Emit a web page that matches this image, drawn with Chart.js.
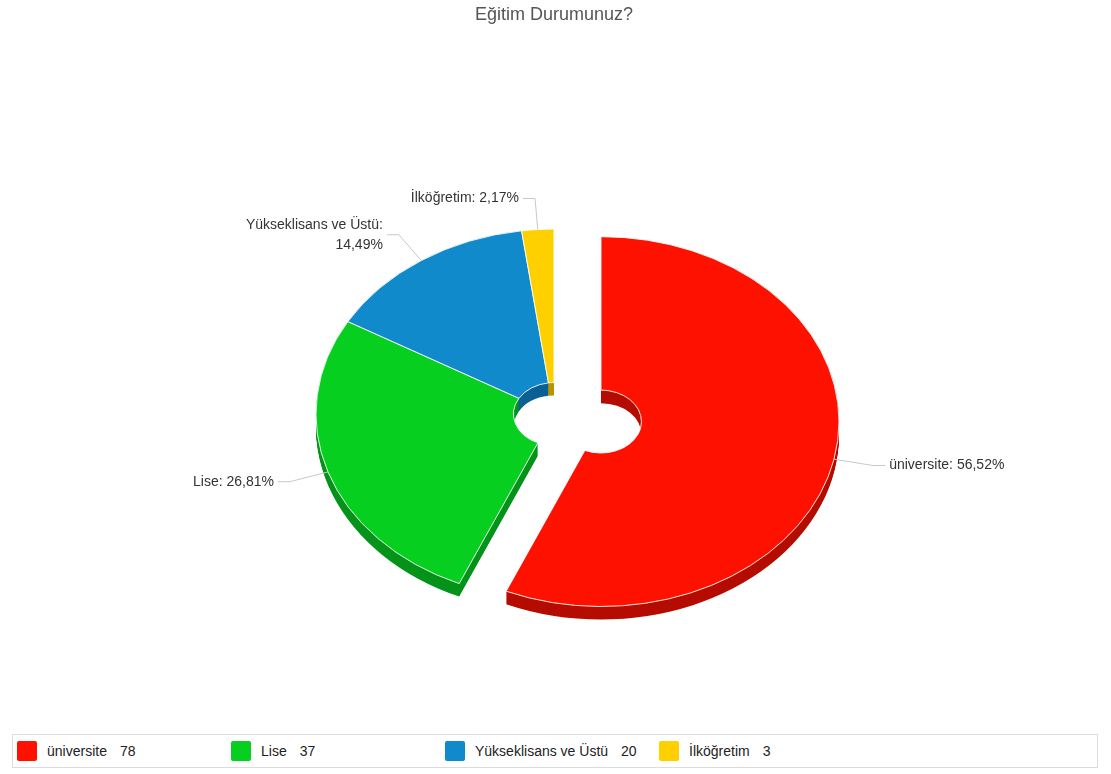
<!DOCTYPE html>
<html>
<head>
<meta charset="utf-8">
<script src="https://cdn.jsdelivr.net/npm/chart.js@4.4.1/dist/chart.umd.min.js"></script>
<style>
  body { margin: 0; background: #fff; font-family: "Liberation Sans", Arial, sans-serif; }
  #wrap { position: relative; width: 1111px; height: 728px; }
  #legend {
    position: absolute; left: 12px; top: 734px; width: 1086px; height: 34px;
    border: 1px solid #dcdcdc; box-sizing: border-box; padding-left: 4px;
    white-space: nowrap; font-size: 14px; color: #222;
  }
  #legend .item { display: inline-block; width: 214px; height: 32px; line-height: 32px; vertical-align: top; }
  #legend .sw { display: inline-block; width: 20px; height: 20px; border-radius: 2px; vertical-align: middle; margin: -3px 10px 0 0; }
  #legend .val { margin-left: 13px; }
</style>
</head>
<body>
<div id="wrap"><canvas id="pie" width="1111" height="728"></canvas></div>
<div id="legend"></div>
<script>
const categories = ["üniversite", "Lise", "Yükseklisans ve Üstü", "İlköğretim"];
const counts = [78, 37, 20, 3];
const colors = ["#ff1100", "#07cf1f", "#118acc", "#ffd000"];
const sideColors = ["#b50c00", "#05931a", "#0b6094", "#b89500"];
const explode = [48, 0, 0, 0];

// tilt settings for the fake 3d look
const tilt = { cx: 554, cy: 414, squash: 0.777, depth: 13 };

function arcPath(ctx, a) {
  ctx.beginPath();
  ctx.arc(a.x, a.y, a.outerRadius, a.startAngle, a.endAngle);
  ctx.arc(a.x, a.y, a.innerRadius, a.endAngle, a.startAngle, true);
  ctx.closePath();
}

const pie3d = {
  id: "pie3d",
  beforeDatasetDraw(chart, args) {
    const ctx = chart.ctx;
    const arcs = args.meta.data;
    ctx.save();
    ctx.translate(tilt.cx, tilt.cy);
    ctx.scale(1, tilt.squash);
    ctx.translate(-arcs[0].x, -arcs[0].y);
    // side walls
    for (let k = tilt.depth; k >= 1; k--) {
      arcs.forEach((a, i) => {
        const mid = (a.startAngle + a.endAngle) / 2;
        ctx.save();
        ctx.translate(Math.cos(mid) * explode[i], Math.sin(mid) * explode[i] + k / tilt.squash);
        ctx.fillStyle = sideColors[i];
        arcPath(ctx, a);
        ctx.fill();
        ctx.restore();
      });
    }
    // top faces
    arcs.forEach((a, i) => {
      const mid = (a.startAngle + a.endAngle) / 2;
      ctx.save();
      ctx.translate(Math.cos(mid) * explode[i], Math.sin(mid) * explode[i]);
      a.draw(ctx);
      ctx.restore();
    });
    ctx.restore();
    return false;
  },
  afterDraw(chart) {
    const ctx = chart.ctx;
    const arcs = chart.getDatasetMeta(0).data;
    const vals = chart.data.datasets[0].data;
    const total = vals.reduce((s, v) => s + v, 0);
    const dist = 40;
    ctx.save();
    ctx.font = '14px "Liberation Sans", Arial, sans-serif';
    ctx.textBaseline = "middle";
    arcs.forEach((a, i) => {
      const mid = (a.startAngle + a.endAngle) / 2;
      const c = Math.cos(mid), s = Math.sin(mid);
      const ox = tilt.cx + c * explode[i];
      const oy = tilt.cy + s * explode[i] * tilt.squash;
      const ax = ox + c * a.outerRadius, ay = oy + s * a.outerRadius * tilt.squash;
      const lx = ox + c * (a.outerRadius + dist), ly = oy + s * (a.outerRadius + dist) * tilt.squash;
      const right = c >= 0;
      const pct = (vals[i] / total * 100).toFixed(2).replace(".", ",") + "%";
      let lines = [chart.data.labels[i] + ": " + pct];
      if (ctx.measureText(lines[0]).width > 150) lines = [chart.data.labels[i] + ":", pct];

      ctx.strokeStyle = "#c8c8c8";
      ctx.lineWidth = 1;
      ctx.beginPath();
      ctx.moveTo(right ? lx + 12 : lx - 12, ly);
      ctx.lineTo(lx, ly);
      ctx.lineTo(ax, ay);
      ctx.stroke();

      ctx.fillStyle = "#333";
      ctx.textAlign = right ? "left" : "right";
      const tx = right ? lx + 16 : lx - 16;
      const y0 = ly - (lines.length - 1) * 10;
      lines.forEach((t, j) => ctx.fillText(t, tx, y0 + j * 20));
    });
    ctx.restore();
  }
};

new Chart("pie", {
  type: "doughnut",
  data: {
    labels: categories,
    datasets: [{
      data: counts,
      backgroundColor: colors,
      borderColor: "#ffffff",
      borderWidth: 1,
    }],
  },
  options: {
    responsive: false,
    animation: false,
    radius: 238,
    cutout: "17%",
    layout: { padding: { right: 3 } },
    plugins: {
      legend: { display: false },
      tooltip: { enabled: false },
      title: {
        display: true,
        text: "Eğitim Durumunuz?",
        color: "#555",
        font: { family: '"Liberation Sans", Arial, sans-serif', size: 18, weight: "normal" },
        padding: { top: 4, bottom: 10 },
      },
    },
  },
  plugins: [pie3d],
});

const legend = document.getElementById("legend");
categories.forEach((name, i) => {
  const item = document.createElement("span");
  item.className = "item";
  item.innerHTML = '<span class="sw" style="background:' + colors[i] + '"></span>' +
    name + '<span class="val">' + counts[i] + "</span>";
  legend.appendChild(item);
});
</script>
</body>
</html>
